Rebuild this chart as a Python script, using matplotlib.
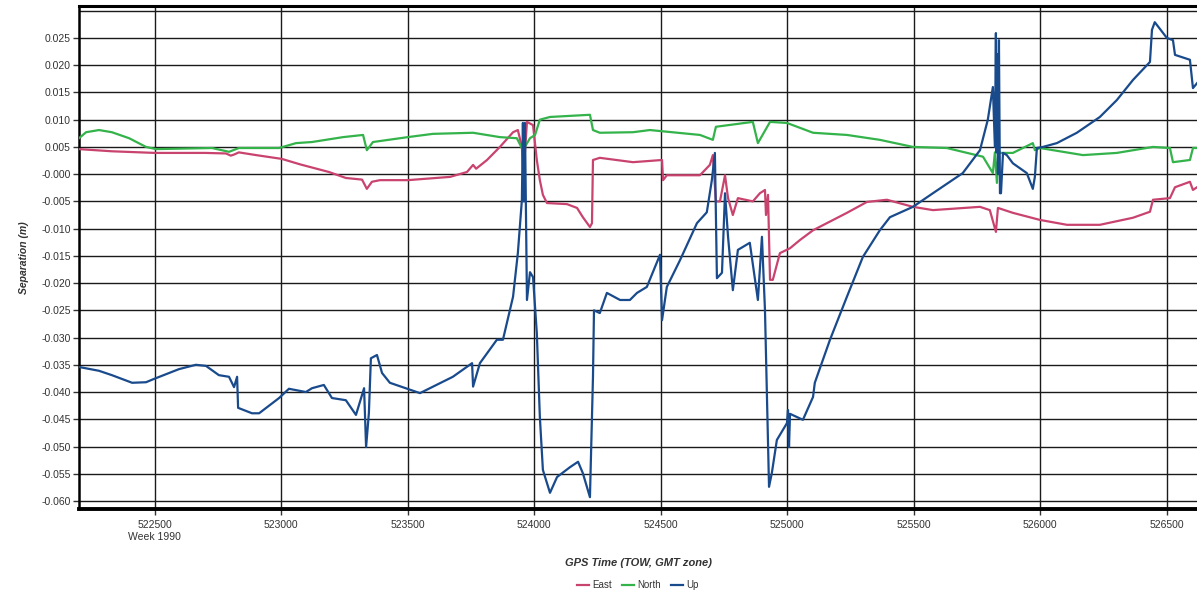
import matplotlib
matplotlib.use("Agg")
import matplotlib.pyplot as plt
import numpy as np

plt.rcParams['font.family'] = ['Liberation Sans', 'DejaVu Sans']

# GPS time of week (s) and separation (m)
east_t = [522200, 522330, 522500, 522700, 522781, 522800, 522813, 522832, 522900, 523002,
          523074, 523188, 523255, 523319, 523338, 523358, 523390, 523500, 523667, 523734,
          523758, 523770, 523813, 523864, 523916, 523935, 523951, 523955, 523963, 523971,
          523995, 524010, 524022, 524034, 524050, 524129, 524169, 524192, 524220, 524228,
          524232, 524259, 524390, 524505, 524509, 524524, 524655, 524694, 524706, 524718,
          524734, 524754, 524766, 524785, 524805, 524864, 524892, 524912, 524916, 524924,
          524932, 524943, 524971, 525011, 525050, 525102, 525236, 525315, 525394, 525497,
          525576, 525762, 525801, 525825, 525833, 525892, 525999, 526106, 526236, 526367,
          526434, 526446, 526513, 526533, 526592, 526604, 526620]
east_v = [0.0046, 0.0042, 0.0039, 0.0039, 0.0038, 0.0034, 0.0036, 0.0040, 0.0035, 0.0028,
          0.0018, 0.0004, -0.0007, -0.0010, -0.0027, -0.0014, -0.0011, -0.0011, -0.0005, 0.0004,
          0.0017, 0.0010, 0.0026, 0.0050, 0.0077, 0.0081, 0.0050, 0.0013, 0.0040, 0.0096,
          0.0090, 0.0026, -0.0011, -0.0038, -0.0053, -0.0055, -0.0062, -0.0079, -0.0097, -0.0090,
          0.0026, 0.0030, 0.0022, 0.0026, -0.0011, -0.0002, -0.0002, 0.0017, 0.0035, -0.0050,
          -0.0050, -0.0002, -0.0044, -0.0075, -0.0044, -0.0050, -0.0035, -0.0029, -0.0075, -0.0038,
          -0.0194, -0.0194, -0.0145, -0.0136, -0.0121, -0.0103, -0.0071, -0.0051, -0.0047, -0.0060,
          -0.0066, -0.0060, -0.0066, -0.0106, -0.0062, -0.0071, -0.0084, -0.0093, -0.0093, -0.0080,
          -0.0069, -0.0047, -0.0044, -0.0024, -0.0014, -0.0029, -0.0024]

north_t = [522200, 522228, 522279, 522330, 522398, 522465, 522504, 522726, 522793, 522832,
           522991, 523058, 523121, 523244, 523323, 523338, 523362, 523500, 523599, 523758,
           523864, 523931, 523955, 523983, 524003, 524022, 524062, 524220, 524232, 524259,
           524390, 524457, 524655, 524706, 524718, 524864, 524884, 524932, 524999, 525102,
           525236, 525366, 525497, 525631, 525774, 525813, 525821, 525829, 525835, 525841,
           525892, 525971, 525979, 525999, 526169, 526303, 526446, 526513, 526525, 526592,
           526604, 526620]
north_v = [0.0066, 0.0077, 0.0081, 0.0077, 0.0066, 0.0050, 0.0046, 0.0048, 0.0041, 0.0048,
           0.0048, 0.0057, 0.0059, 0.0068, 0.0072, 0.0044, 0.0059, 0.0068, 0.0074, 0.0076,
           0.0068, 0.0066, 0.0044, 0.0066, 0.0072, 0.0100, 0.0105, 0.0109, 0.0081, 0.0076,
           0.0077, 0.0081, 0.0072, 0.0063, 0.0087, 0.0096, 0.0057, 0.0096, 0.0094, 0.0076,
           0.0072, 0.0063, 0.0050, 0.0048, 0.0032, 0.0002, 0.0040, -0.0016, 0.0045, 0.0039,
           0.0039, 0.0057, 0.0044, 0.0048, 0.0035, 0.0039, 0.0050, 0.0048, 0.0022, 0.0026,
           0.0048, 0.0048]

up_t = [522200, 522279, 522330, 522410, 522465, 522496, 522595, 522662, 522702, 522753,
        522793, 522813, 522825, 522829, 522884, 522912, 522991, 523030, 523097, 523121,
        523168, 523200, 523255, 523295, 523327, 523335, 523346, 523354, 523378, 523398,
        523429, 523548, 523678, 523754, 523758, 523785, 523852, 523876, 523916, 523935,
        523951, 523955, 523959, 523963, 523971, 523983, 523995, 524010, 524022, 524034,
        524062, 524090, 524141, 524173, 524192, 524220, 524232, 524236, 524259, 524287,
        524339, 524378, 524406, 524445, 524497, 524505, 524524, 524576, 524643, 524682,
        524702, 524714, 524722, 524742, 524754, 524766, 524785, 524805, 524852, 524884,
        524900, 524912, 524928, 524939, 524959, 524999, 525003, 525007, 525011, 525062,
        525102, 525109, 525169, 525236, 525299, 525366, 525406, 525497, 525576, 525694,
        525762, 525793, 525813, 525821, 525825, 525827, 525831, 525833, 525837, 525841,
        525845, 525853, 525868, 525892, 525947, 525971, 525979, 525987, 526011, 526066,
        526145, 526236, 526303, 526367, 526434, 526442, 526453, 526501, 526525, 526533,
        526592, 526604, 526620]
up_v = [-0.0354, -0.0361, -0.0369, -0.0383, -0.0382, -0.0376, -0.0358, -0.0350, -0.0352, -0.0369,
        -0.0372, -0.0391, -0.0372, -0.0429, -0.0439, -0.0439, -0.0411, -0.0394, -0.0400, -0.0393,
        -0.0387, -0.0411, -0.0415, -0.0442, -0.0393, -0.0501, -0.0439, -0.0338, -0.0332, -0.0365,
        -0.0383, -0.0402, -0.0372, -0.0347, -0.0390, -0.0347, -0.0304, -0.0304, -0.0225, -0.0145,
        -0.0047, 0.0094, -0.0050, 0.0094, -0.0231, -0.0180, -0.0189, -0.0292, -0.0446, -0.0543,
        -0.0585, -0.0556, -0.0538, -0.0528, -0.0549, -0.0593, -0.0372, -0.0250, -0.0255, -0.0218,
        -0.0231, -0.0231, -0.0218, -0.0207, -0.0148, -0.0268, -0.0207, -0.0158, -0.0090, -0.0070,
        -0.0011, 0.0039, -0.0191, -0.0181, -0.0035, -0.0115, -0.0213, -0.0139, -0.0126, -0.0231,
        -0.0115, -0.0250, -0.0574, -0.0549, -0.0488, -0.0457, -0.0433, -0.0501, -0.0440, -0.0451,
        -0.0409, -0.0383, -0.0304, -0.0225, -0.0152, -0.0103, -0.0079, -0.0060, -0.0035, 0.0002,
        0.0044, 0.0100, 0.0160, 0.0050, 0.0259, 0.0040, 0.0220, 0.0000, 0.0246, -0.0035,
        -0.0035, 0.0039, 0.0035, 0.0020, 0.0002, -0.0027, -0.0005, 0.0048, 0.0050, 0.0057,
        0.0076, 0.0105, 0.0136, 0.0173, 0.0206, 0.0265, 0.0279, 0.0250, 0.0246, 0.0219,
        0.0210, 0.0158, 0.0167]

xticks = [522500, 523000, 523500, 524000, 524500, 525000, 525500, 526000, 526500]
yticks = [0.025, 0.020, 0.015, 0.010, 0.005, 0.0, -0.005, -0.010, -0.015, -0.020,
          -0.025, -0.030, -0.035, -0.040, -0.045, -0.050, -0.055, -0.060]
ytick_labels = ['0.025', '0.020', '0.015', '0.010', '0.005', '-0.000', '-0.005', '-0.010',
                '-0.015', '-0.020', '-0.025', '-0.030', '-0.035', '-0.040', '-0.045',
                '-0.050', '-0.055', '-0.060']

fig = plt.figure(figsize=(11.97, 5.96), dpi=100)
ax = fig.add_axes([0.066, 0.146, 0.934, 0.844])

grid_kw = dict(color='#1a1a1a', linewidth=1.0, zorder=1)
ax.set_xticks(xticks)
ax.set_yticks(yticks)
ax.set_yticklabels(ytick_labels)
ax.grid(True, **grid_kw)
ax.axhline(0.030, **grid_kw)

ax.plot(east_t, east_v, color='#c9436f', lw=1.6, label='East', zorder=3)
ax.plot(north_t, north_v, color='#33b34a', lw=1.6, label='North', zorder=3)
ax.plot(up_t, up_v, color='#194a8c', lw=1.6, label='Up', zorder=4)

ax.set_xlim(522200, 526620)
ax.set_ylim(-0.06147, 0.03088)

ax.spines['right'].set_visible(False)
ax.spines['left'].set_linewidth(1.8)
ax.spines['bottom'].set_linewidth(2.8)
ax.spines['top'].set_linewidth(2.2)
ax.tick_params(axis='both', length=4, width=1, color='#333333', labelsize=7.5,
               labelcolor='#333333', direction='out')
ax.tick_params(axis='x', pad=4)
ax.tick_params(axis='y', pad=2)

ax.text(522500, -0.0667, 'Week 1990', ha='center', va='center', fontsize=7.5,
        color='#333333', transform=ax.transData, clip_on=False)

ax.set_xlabel('GPS Time (TOW, GMT zone)', fontsize=8, fontweight='bold', fontstyle='italic',
              color='#333333', labelpad=20)
ax.set_ylabel('Separation (m)', fontsize=7.5, fontweight='bold', fontstyle='italic',
              color='#333333', labelpad=9)

leg = ax.legend(loc='center', bbox_to_anchor=(0.5, -0.152), ncol=3, frameon=False,
                fontsize=7, handlelength=1.2, handletextpad=0.4, columnspacing=1.0,
                labelcolor='#333333')

fig.savefig('out.png', dpi=100, facecolor='white')
